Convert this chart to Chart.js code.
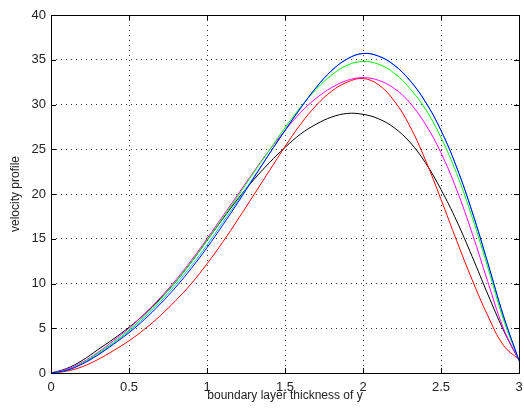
<!DOCTYPE html>
<html>
<head>
<meta charset="utf-8">
<script src="https://cdn.jsdelivr.net/npm/chart.js@4.4.0/dist/chart.umd.min.js"></script>
<style>
  html, body { margin: 0; padding: 0; background: #fff; }
  #wrap { width: 524px; height: 412px; }
</style>
</head>
<body>
<div id="wrap"><canvas id="chart" width="524" height="412"></canvas></div>
<script>
// boundary layer position (x) and velocity curves
const yPos = [0, 0.1, 0.2, 0.3, 0.4, 0.5, 0.6, 0.7, 0.8, 0.9, 1.0,
              1.1, 1.2, 1.3, 1.4, 1.5, 1.6, 1.7, 1.8, 1.9, 2.0,
              2.1, 2.2, 2.3, 2.4, 2.5, 2.6, 2.7, 2.8, 2.9, 3.0];

const blueCurve = [0, 0.3, 1.0, 2.0, 3.2, 4.5, 6.0, 7.7, 9.6, 11.7, 14.0,
                   16.5, 19.1, 21.8, 24.5, 27.1, 29.6, 31.9, 33.8, 35.1, 35.7,
                   35.4, 34.4, 32.7, 30.3, 27.1, 23.0, 18.0, 12.3, 6.4, 1.4];
const cyanCurve = [0, 0.3, 1.05, 2.1, 3.3, 4.65, 6.2, 7.95, 9.9, 12.0, 14.3,
                   16.8, 19.3, 21.9, 24.5, 27.1, 29.6, 31.9, 33.8, 35.1, 35.7,
                   35.4, 34.4, 32.7, 30.3, 27.1, 23.0, 18.0, 12.3, 6.4, 1.4];
const greenCurve = [0, 0.3, 1.1, 2.2, 3.4, 4.8, 6.4, 8.2, 10.2, 12.4, 14.8,
                    17.3, 19.8, 22.4, 24.9, 27.4, 29.7, 31.7, 33.3, 34.4, 34.8,
                    34.5, 33.5, 31.8, 29.5, 26.3, 22.3, 17.4, 11.8, 6.0, 1.4];
const magentaCurve = [0, 0.4, 1.2, 2.3, 3.6, 5.0, 6.6, 8.4, 10.4, 12.6, 15.0,
                      17.5, 20.0, 22.5, 24.9, 27.1, 29.1, 30.7, 31.9, 32.7, 33.0,
                      32.7, 31.8, 30.2, 27.8, 24.6, 20.5, 15.6, 10.2, 5.0, 1.4];
const redCurve = [0, 0.2, 0.7, 1.5, 2.5, 3.6, 4.9, 6.4, 8.1, 10.0, 12.2,
                  14.6, 17.2, 19.9, 22.6, 25.3, 27.8, 29.9, 31.5, 32.5, 32.9,
                  32.2, 30.4, 27.6, 23.8, 19.4, 14.8, 10.4, 6.4, 3.1, 1.5];
const blackCurve = [0, 0.5, 1.4, 2.6, 3.8, 5.1, 6.6, 8.3, 10.2, 12.4, 14.8,
                    17.2, 19.5, 21.6, 23.5, 25.2, 26.7, 27.8, 28.6, 29.0, 28.9,
                    28.4, 27.4, 25.8, 23.5, 20.5, 17.0, 13.0, 8.8, 4.8, 1.4];

const xTicks = [0, 0.5, 1, 1.5, 2, 2.5, 3];
const yTicks = [0, 5, 10, 15, 20, 25, 30, 35, 40];

const toPoints = (vals) => yPos.map((x, i) => ({ x: x, y: vals[i] }));

const makeSet = (vals, color) => ({
    data: toPoints(vals),
    borderColor: color,
    backgroundColor: color,
    borderWidth: 1,
    pointRadius: 0,
    tension: 0.4,
    fill: false
});

// box frame and inward tick marks, matlab style
const framePlugin = {
    id: "frame",
    afterDatasetsDraw(chart) {
        const { ctx, chartArea: a, scales } = chart;
        ctx.save();
        ctx.strokeStyle = "#000";
        ctx.lineWidth = 1;
        ctx.beginPath();
        xTicks.forEach((t) => {
            const px = Math.round(scales.x.getPixelForValue(t)) + 0.5;
            ctx.moveTo(px, a.bottom); ctx.lineTo(px, a.bottom - 5);
            ctx.moveTo(px, a.top); ctx.lineTo(px, a.top + 5);
        });
        yTicks.forEach((t) => {
            const py = Math.round(scales.y.getPixelForValue(t)) + 0.5;
            ctx.moveTo(a.left, py); ctx.lineTo(a.left + 5, py);
            ctx.moveTo(a.right, py); ctx.lineTo(a.right - 5, py);
        });
        ctx.stroke();
        ctx.strokeRect(Math.round(a.left) + 0.5, Math.round(a.top) + 0.5,
            Math.round(a.right - a.left), Math.round(a.bottom - a.top));
        ctx.restore();
    }
};

const ctx = document.getElementById("chart").getContext("2d");

new Chart(ctx, {
    type: "line",
    data: {
        datasets: [
            makeSet(blueCurve, "#0000ff"),
            makeSet(cyanCurve, "#00c8c8"),
            makeSet(greenCurve, "#00ff00"),
            makeSet(magentaCurve, "#ff00ff"),
            makeSet(redCurve, "#ff0000"),
            makeSet(blackCurve, "#000000")
        ]
    },
    options: {
        responsive: false,
        animation: false,
        layout: { padding: { top: 15, right: 5, left: 0, bottom: 0 } },
        plugins: {
            legend: { display: false },
            tooltip: { enabled: false }
        },
        scales: {
            x: {
                type: "linear",
                min: 0,
                max: 3,
                afterBuildTicks: (scale) => { scale.ticks = xTicks.map((v) => ({ value: v })); },
                afterFit: (scale) => {
                    scale.height = 39;
                    scale.paddingLeft = 0;
                    scale.paddingRight = 0;
                },
                ticks: {
                    color: "#222",
                    font: { family: "Liberation Sans", size: 13 },
                    padding: 7,
                    maxRotation: 0,
                    callback: (v) => String(v)
                },
                grid: { color: "#333", drawTicks: false },
                border: { display: false, dash: [1, 4] },
                title: {
                    display: true,
                    text: "boundary layer thickness of y",
                    color: "#222",
                    font: { family: "Liberation Sans", size: 12 },
                    padding: { top: 2, bottom: 9 }
                }
            },
            y: {
                type: "linear",
                min: 0,
                max: 40,
                afterBuildTicks: (scale) => { scale.ticks = yTicks.map((v) => ({ value: v })); },
                afterFit: (scale) => { scale.width = 51; },
                ticks: {
                    color: "#222",
                    font: { family: "Liberation Sans", size: 13 },
                    padding: 5,
                    callback: (v) => String(v)
                },
                grid: { color: "#333", drawTicks: false },
                border: { display: false, dash: [1, 4] },
                title: {
                    display: true,
                    text: "velocity profile",
                    color: "#222",
                    font: { family: "Liberation Sans", size: 12 },
                    padding: { top: 8, bottom: 4 }
                }
            }
        }
    },
    plugins: [framePlugin]
});
</script>
</body>
</html>
